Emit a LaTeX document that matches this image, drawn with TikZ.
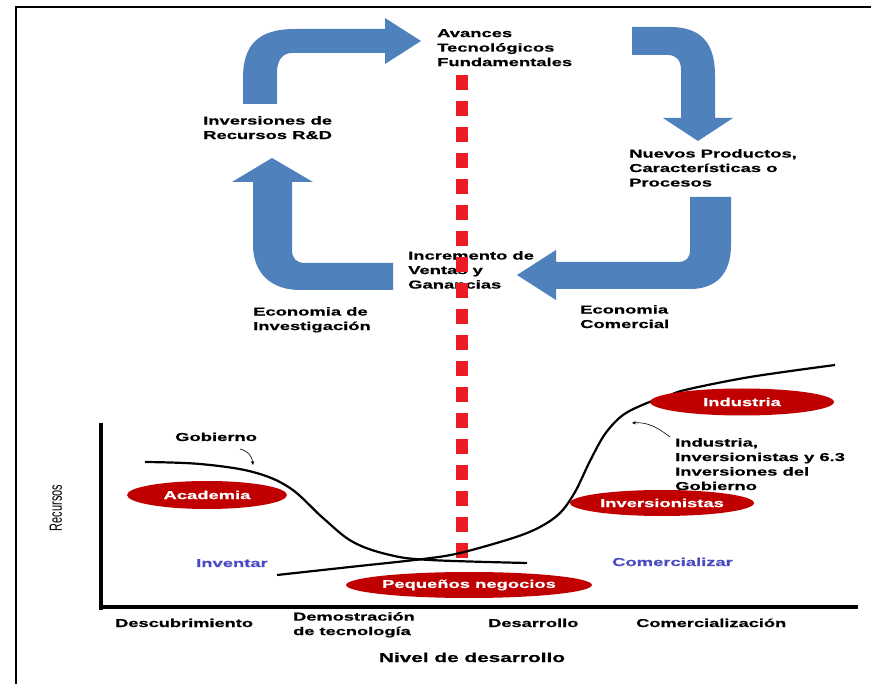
\documentclass[tikz,border=0pt]{standalone}
\usepackage{fontspec}
\setmainfont{Liberation Sans}[FakeStretch=1.6, BoldFeatures={FakeBold=0.6}]
\newfontfamily\plainsans{Liberation Sans}
\usetikzlibrary{shapes.geometric,arrows.meta}
\definecolor{arrowblue}{RGB}{79,129,189}
\definecolor{dashred}{RGB}{236,28,36}
\definecolor{ellred}{RGB}{192,0,0}
\definecolor{txtblue}{RGB}{75,75,195}
\tikzset{
  lbl/.style={font=\bfseries\fontsize{11.5}{14.5}\selectfont, inner sep=0pt, align=left, anchor=north west},
  lblone/.style={font=\bfseries\fontsize{11.5}{14.5}\selectfont, inner sep=0pt, anchor=base west},
  axlbl/.style={font=\bfseries\fontsize{11.4}{14.5}\selectfont, inner sep=0pt},
  ell/.style={ellipse, fill=ellred, text=white, inner sep=0pt, font=\bfseries\fontsize{11.5}{14}\selectfont},
  bigarrow/.style={fill=arrowblue},
  curve/.style={line width=2.2pt, black},
  pointer/.style={line width=0.6pt, -{Stealth[length=4pt,width=3.5pt]}},
}
\begin{document}
\begin{tikzpicture}[x=1pt,y=-1pt]
\useasboundingbox (0,0) rectangle (871,684);
\fill[white] (0,0) rectangle (871,684);
% frame
\draw[line width=2pt] (16,684) -- (16,7) -- (871,7);

% cycle arrows
\fill[bigarrow] (243,104) -- (243,78) .. controls (243,45) and (258,29) .. (295,29) -- (385,29) -- (385,18) -- (421,41) -- (385,64) -- (385,53) -- (292,53) .. controls (283,53) and (277,60) .. (277,72) -- (277,104) -- cycle;
\fill[bigarrow] (632,27) -- (670,27) .. controls (700,27) and (715,42) .. (715,75) -- (715,118) -- (733,118) -- (698,141) -- (663,118) -- (681,118) -- (681,70) .. controls (681,60) and (676,55) .. (668,55) -- (632,55) -- cycle;
\fill[bigarrow] (690,197) -- (731,197) -- (731,245) .. controls (731,275) and (715,289) .. (690,289) -- (556,289) -- (556,300) -- (517,275) -- (556,250) -- (556,262) -- (678,262) .. controls (686,262) and (690,258) .. (690,250) -- cycle;
\fill[bigarrow] (393,263) -- (393,290) -- (300,290) .. controls (270,290) and (253,272) .. (253,245) -- (253,182) -- (232,182) -- (272,158) -- (313,182) -- (292,182) -- (292,250) .. controls (292,258) and (296,263) .. (305,263) -- cycle;

% cycle labels
\node[lbl] (avances) at (437,29) {Avances\\Tecnológicos\\Fundamentales};
\node[lbl] (inversiones) at (203,116) {Inversiones de\\Recursos R\&D};
\node[lbl] (nuevos) at (629,149) {Nuevos Productos,\\Características o\\Procesos};
\node[lbl] (incremento) at (408,251) {Incremento de\\Ventas y\\Ganancias};
\node[lbl] (ecoinv) at (253,307) {Economia de\\Investigación};
\node[lbl] (ecocom) at (580,305) {Economia\\Comercial};

% red dashed divider
\draw[dashred, line width=12pt, dash pattern=on 15pt off 11pt] (462,75) -- (462,562);

% axes
\draw[line width=3.5pt] (101,423) -- (101,610);
\draw[line width=3.5pt] (99,607) -- (858,607);

% ellipses (behind curves)
\node[ell, minimum width=160pt, minimum height=28pt] (academia) at (207,495) {Academia};
\node[ell, minimum width=184pt, minimum height=26pt] (inversionistas) at (662,503) {Inversionistas};
\node[ell, minimum width=218pt, minimum height=26pt] (pequenos) at (469,585) {Pequeños negocios};

% curves
\draw[curve] plot[smooth, tension=0.6] coordinates {(145,462) (200,464) (253,472) (290,488) (323,518) (353,542) (390,555) (430,560) (527,563)};
\draw[curve] plot[smooth, tension=0.55] coordinates {(277,575) (350,567) (423,559) (460,553) (513,538) (540,527) (560,513) (575,492) (590,461) (605,434) (623,415) (647,403) (666,397) (685,390) (750,377) (835,365)};

\node[ell, minimum width=184pt, minimum height=27pt] (industria) at (742,402) {Industria};

% chart labels
\node[lblone] (gobierno) at (175,441) {Gobierno};
\coordinate (gp1) at (240,449);
\coordinate (gp2) at (253,465);
\draw[pointer] (gp1) .. controls (248,451) and (252,456) .. (gp2);
\node[lbl] (indinv) at (675,438) {Industria,\\Inversionistas y 6.3\\Inversiones del\\Gobierno};
\coordinate (ip1) at (670,437);
\coordinate (ip2) at (632,423);
\draw[pointer] (ip1) .. controls (656,426) and (646,422) .. (ip2);
\node[lblone, text=txtblue] (inventar) at (196,567) {Inventar};
\node[lblone, text=txtblue] (comercializar) at (612,566) {Comercializar};
\node[rotate=90, inner sep=0pt, font=\plainsans\fontsize{11}{13}\selectfont] (recursos) at (56,508) {\scalebox{1}[1.6]{Recursos}};

% axis labels
\node[axlbl, anchor=base west] (descub) at (115,627) {Descubrimiento};
\node[axlbl, anchor=north west, align=left] (demos) at (293,612) {Demostración\\de tecnología};
\node[axlbl, anchor=base west] (desarrollo) at (488,627) {Desarrollo};
\node[axlbl, anchor=base west] (comerc) at (636,627) {Comercialización};
\node[font=\bfseries\fontsize{13}{15}\selectfont, anchor=base, inner sep=0pt] (nivel) at (472,662) {Nivel de desarrollo};
\end{tikzpicture}
\end{document}
